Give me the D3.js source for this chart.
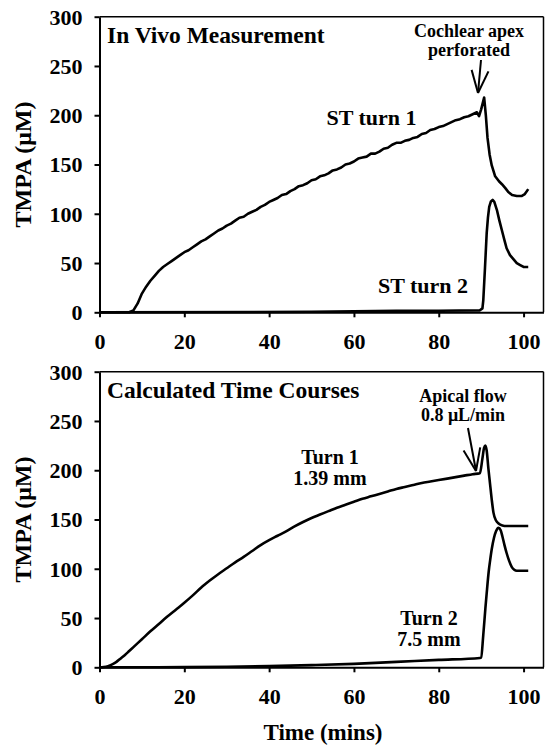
<!DOCTYPE html>
<html><head><meta charset="utf-8">
<script src="https://cdn.jsdelivr.net/npm/d3@7"></script>
<style>
body{margin:0;background:#fff}
svg text{font-family:'Liberation Serif','Times New Roman','DejaVu Serif',Times,serif !important;font-weight:bold;fill:#000}
</style>
</head><body>
<svg id="chart" width="546" height="746"></svg>
<script>
// ---- data ----
const xTickValues = [0, 20, 40, 60, 80, 100];
const yTickValues = [0, 50, 100, 150, 200, 250, 300];

// In vivo measurement
const stTurn1Time = [0,7,8,9,10,11,12,13,14,15,16,17,18,19,20,21,22,23,24,25,26,27,28,29,30,31,32,33,34,35,36,37,38,39,40,41,42,43,44,45,46,47,48,49,50,51,52,53,54,55,56,57,58,59,60,61,62,63,64,65,66,67,68,69,70,71,72,73,74,75,76,77,78,79,80,81,82,83,84,85,86,87,88,89,89.5,90,90.7,91.1,91.5,92,92.5,93.3,94.2,94.9,95.7,96.4,97.3,98.4,99.5,100.3,101.1];
const stTurn1Value = [0,0,2,9,19,26,32,37,42,46,49,52,55,58,61,63,66,69,72,74,77,80,83,85,88,90,93,96,97,100,102,104,107,109,112,114,116,119,120,123,125,128,129,131,134,135,138,139,141,144,145,147,150,151,153,156,157,158,161,161,163,166,167,170,172,172,174,175,177,178,181,182,185,186,188,189,191,193,195,196,198,199,201,203,199,206,218,200,177,160,149,138,133,130,126,122,119,118,118,120,125];
const stTurn2Time = [0,50,60,70,80,89.7,90.3,90.5,90.9,91.3,91.6,91.9,92.3,92.7,93.1,93.7,94.3,94.9,95.5,96,96.8,97.6,98.4,99.2,100,101.1];
const stTurn2Value = [0,0.5,1,1.5,1.5,2,4,12,45,80,96,107,112.5,114,112,104,93,83,73,65,58,54,50,48,46,46];

// Calculated time courses
const calcTurn1Time = [0,1,2,3,4,5,6,7,8,10,12,14,16,18,20,22,24,26,28,30,32,34,36,38,40,42,44,46,48,50,52,54,56,58,60,62,64,66,68,70,72,74,76,78,80,82,84,86,88,89.7,90.3,90.7,91,91.3,91.7,92.1,92.5,92.9,93.5,94.1,95,96,101.1];
const calcTurn1Value = [0,0.3,1.2,3,5.5,9,12.5,16.5,20.5,28.5,36.5,44,51.5,58.5,65.5,73,81,88,94.5,100.5,106.5,112,118,124,129,133.5,138,143,147.5,151.5,155,158.5,162,165,168,171,173.5,176,178.5,181,183,185,187,188.5,190,191.5,193,194.5,196,197,212,223,225,220,202,186,170,157,149,146,144,143.4,143.4];
const calcTurn2Time = [0,10,20,30,40,50,60,70,80,89.7,90,90.5,91,91.3,91.8,92.1,92.5,93,93.5,94.1,94.6,95,95.5,96,96.6,97.2,97.8,98.4,101.1];
const calcTurn2Value = [0,0,0.2,0.5,1.2,2.2,3.5,5.5,7.5,9.5,10,33,60,75,98,108,120,131,138,141.5,139,133,124,116,108,102,99,98,98];

const zip = (t, v) => t.map((d, i) => [d, v[i]]);
const FONT = "'Liberation Serif','Times New Roman','DejaVu Serif',Times,serif";

// ---- layout ----
const svg = d3.select("#chart");
svg.append("rect").attr("width", 546).attr("height", 746).attr("fill", "#fff");
const x = d3.scaleLinear().domain([0, 104.7]).range([99.5, 543.5]);

function txt(sel) {
  return sel.attr("font-family", FONT).attr("font-weight", "bold").attr("fill", "#000");
}

function panel(yTop, yBottom, opts) {
  const y = d3.scaleLinear().domain([0, 300]).range([yBottom, yTop]);
  const g = svg.append("g");
  g.append("line").attr("x1", x(0)).attr("x2", x(104.7)).attr("y1", y(300)).attr("y2", y(300))
    .attr("stroke", "#000").attr("stroke-width", 1.5);
  g.append("line").attr("x1", x(104.7)).attr("x2", x(104.7)).attr("y1", y(300)).attr("y2", y(0))
    .attr("stroke", "#000").attr("stroke-width", 1.5);

  const ya = g.append("g").attr("transform", `translate(${x(0)},0)`)
    .call(d3.axisLeft(y).tickValues(yTickValues).tickSize(5).tickSizeOuter(0).tickPadding(12));
  ya.attr("font-family", FONT);
  ya.select(".domain").attr("stroke-width", 2);
  ya.selectAll(".tick line").attr("stroke-width", 2);
  txt(ya.selectAll("text")).attr("font-size", 22).attr("dy", "0.34em");

  const xa = g.append("g").attr("transform", `translate(0,${y(0)})`)
    .call(d3.axisBottom(x).tickValues(xTickValues).tickSize(5).tickSizeOuter(0).tickPadding(16));
  xa.attr("font-family", FONT);
  xa.select(".domain").attr("stroke-width", 2);
  xa.selectAll(".tick line").attr("stroke-width", 2);
  txt(xa.selectAll("text")).attr("font-size", 22).attr("dy", "0.71em");

  txt(svg.append("text")).attr("transform", `translate(31,${(y(0) + y(300)) / 2}) rotate(-90)`)
    .attr("text-anchor", "middle").attr("font-size", 24).text("TMPA (\u03BCM)");

  txt(svg.append("text")).attr("x", 107).attr("y", y(300) + 26).attr("font-size", 23.5).text(opts.title);

  const line = d3.line().x(d => x(d[0])).y(d => y(d[1])).curve(opts.curve);
  opts.series.forEach(s => {
    g.append("path").datum(s).attr("fill", "none").attr("stroke", "#000")
      .attr("stroke-width", 2.6).attr("stroke-linejoin", "round").attr("d", line);
  });
  return y;
}

panel(16.7, 312.3, {
  title: "In Vivo Measurement",
  curve: d3.curveLinear,
  series: [zip(stTurn1Time, stTurn1Value), zip(stTurn2Time, stTurn2Value)]
});
panel(371.7, 667.3, {
  title: "Calculated Time Courses",
  curve: d3.curveMonotoneX,
  series: [zip(calcTurn1Time, calcTurn1Value), zip(calcTurn2Time, calcTurn2Value)]
});

function label(cx, base, lines, size) {
  lines.forEach((t, i) => txt(svg.append("text")).attr("x", cx).attr("y", base + i * size * 1.05)
    .attr("text-anchor", "middle").attr("font-size", size).text(t));
}
function arrow(x1, y1, x2, y2) {
  const g = svg.append("g").attr("stroke", "#000").attr("stroke-width", 2).attr("fill", "none");
  g.append("line").attr("x1", x1).attr("y1", y1).attr("x2", x2).attr("y2", y2);
  const a = Math.atan2(y2 - y1, x2 - x1), L = 24, sp = 0.36;
  [a + Math.PI - sp, a + Math.PI + sp].forEach(b => {
    g.append("line").attr("x1", x2).attr("y1", y2)
      .attr("x2", x2 + L * Math.cos(b)).attr("y2", y2 + L * Math.sin(b));
  });
}

label(469, 37, ["Cochlear apex", "perforated"], 18);
arrow(481, 60, 478, 93);
label(371.5, 125, ["ST turn 1"], 22);
label(423, 293, ["ST turn 2"], 22);

label(463, 402, ["Apical flow", "0.8 \u03BCL/min"], 18);
arrow(468, 428, 476, 471);
label(330, 464, ["Turn 1", "1.39 mm"], 20);
label(429, 625, ["Turn 2", "7.5 mm"], 20);

txt(svg.append("text")).attr("x", 323).attr("y", 740).attr("text-anchor", "middle")
  .attr("font-size", 23).text("Time (mins)");
</script>
</body></html>
